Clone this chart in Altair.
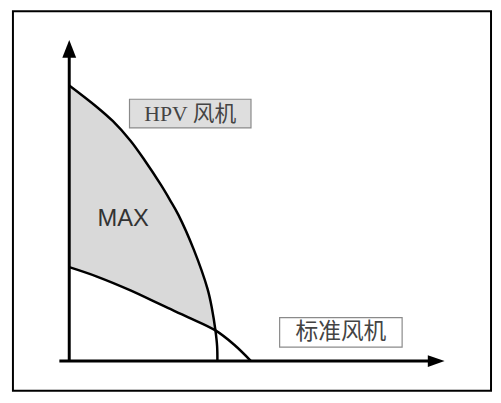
import altair as alt
import pandas as pd

# HPV fan curve (data units: x right, y up from the axes origin)
hpv_x = [0, 2.7, 4.4, 6.2, 7.65, 9.3, 10.2, 11.05, 12.6, 14.0, 14.45, 14.8, 14.97, 15.0]
hpv_y = [27.9, 25.8, 24.3, 22.3, 20.3, 17.8, 16.3, 14.8, 11.3, 7.3, 5.3, 3.1, 1.5, 0.0]
# standard fan curve
std_x = [0, 2.8, 6.2, 9.5, 12.0, 14.8, 16.7, 18.4]
std_y = [9.5, 8.55, 7.15, 5.6, 4.45, 3.1, 1.65, 0.0]
# shaded MAX region between the two curves
shade_x = [0, 2.7, 4.4, 6.2, 7.65, 9.3, 10.2, 11.05, 12.6, 14.0, 14.45, 14.8]
shade_top = [27.9, 25.8, 24.3, 22.3, 20.3, 17.8, 16.3, 14.8, 11.3, 7.3, 5.3, 3.1]
shade_bottom = [9.5, 8.58, 7.89, 7.15, 6.47, 5.69, 5.28, 4.89, 4.16, 3.49, 3.27, 3.1]

label_hpv = "HPV  风机"
label_std = "标准风机"
label_max = "MAX"

XS = alt.Scale(domain=[-6.2, 42.9], nice=False, zero=False)
YS = alt.Scale(domain=[-3.2, 35.5], nice=False, zero=False)


def xd(v):
    return alt.XDatum(v, type="quantitative", scale=XS, axis=None)


def yd(v):
    return alt.YDatum(v, type="quantitative", scale=YS, axis=None)


def xf(f):
    return alt.X(f, type="quantitative", scale=XS, axis=None)


def yf(f):
    return alt.Y(f, type="quantitative", scale=YS, axis=None)


hpv_df = pd.DataFrame({"x": hpv_x, "y": hpv_y, "i": range(len(hpv_x))})
std_df = pd.DataFrame({"x": std_x, "y": std_y, "i": range(len(std_x))})
shade_df = pd.DataFrame({"x": shade_x, "top": shade_top, "bottom": shade_bottom})
one = pd.DataFrame({"k": [0]})

frame = alt.Chart(one).mark_rect(
    fillOpacity=0, stroke="black", strokeWidth=2
).encode(x=xd(-5.7), x2=alt.X2Datum(42.7), y=yd(35.4), y2=alt.Y2Datum(-3.0))

shade = alt.Chart(shade_df).mark_area(
    color="#d9d9d9", interpolate="catmull-rom"
).encode(x=xf("x"), y=yf("top"), y2=alt.Y2("bottom"))

hpv = alt.Chart(hpv_df).mark_line(
    color="black", strokeWidth=2.5, interpolate="catmull-rom"
).encode(x=xf("x"), y=yf("y"), order=alt.Order("i:Q"))

std = alt.Chart(std_df).mark_line(
    color="black", strokeWidth=2.5, interpolate="catmull-rom"
).encode(x=xf("x"), y=yf("y"), order=alt.Order("i:Q"))

yaxis = alt.Chart(one).mark_rule(color="black", strokeWidth=3).encode(
    x=xd(0), y=yd(-0.1), y2=alt.Y2Datum(31.0)
)
xaxis = alt.Chart(one).mark_rule(color="black", strokeWidth=3).encode(
    x=xd(-1.0), x2=alt.X2Datum(36.5), y=yd(0)
)
yarrow = alt.Chart(one).mark_point(
    shape="M0,-1L0.78,1L-0.78,1Z", size=324, filled=True, color="black", opacity=1, strokeWidth=0
).encode(x=xd(0), y=yd(31.6))
xarrow = alt.Chart(one).mark_point(
    shape="M1,0L-1,0.7L-1,-0.7Z", size=289, filled=True, color="black", opacity=1, strokeWidth=0
).encode(x=xd(37.15), y=yd(0))

box_hpv = alt.Chart(one).mark_rect(
    fill="#dedede", stroke="#8a8a8a", strokeWidth=1.2
).encode(x=xd(6.1), x2=alt.X2Datum(18.4), y=yd(26.5), y2=alt.Y2Datum(23.6))
box_std = alt.Chart(one).mark_rect(
    fill="white", stroke="#8a8a8a", strokeWidth=1.2
).encode(x=xd(21.3), x2=alt.X2Datum(33.7), y=yd(4.4), y2=alt.Y2Datum(1.4))

txt_hpv = alt.Chart(one).mark_text(
    text=label_hpv, font="Liberation Serif, Noto Sans CJK SC", fontSize=22,
    color="#444444", align="center", baseline="middle"
).encode(x=xd(12.25), y=yd(25.05))
txt_std = alt.Chart(one).mark_text(
    text=label_std, font="Noto Sans CJK SC", fontSize=23,
    color="#444444", align="center", baseline="middle"
).encode(x=xd(27.5), y=yd(2.9))
txt_max = alt.Chart(one).mark_text(
    text=label_max, font="Liberation Sans", fontSize=24,
    color="#333333", align="center", baseline="middle"
).encode(x=xd(5.45), y=yd(14.4))

chart = alt.layer(
    frame, shade, hpv, std, yaxis, xaxis, yarrow, xarrow,
    box_hpv, box_std, txt_hpv, txt_std, txt_max
).properties(
    width=491, height=387, padding=0, autosize="none"
).configure_view(stroke="transparent")

chart.save("out.html", embed_options={"renderer": "svg", "actions": False})
